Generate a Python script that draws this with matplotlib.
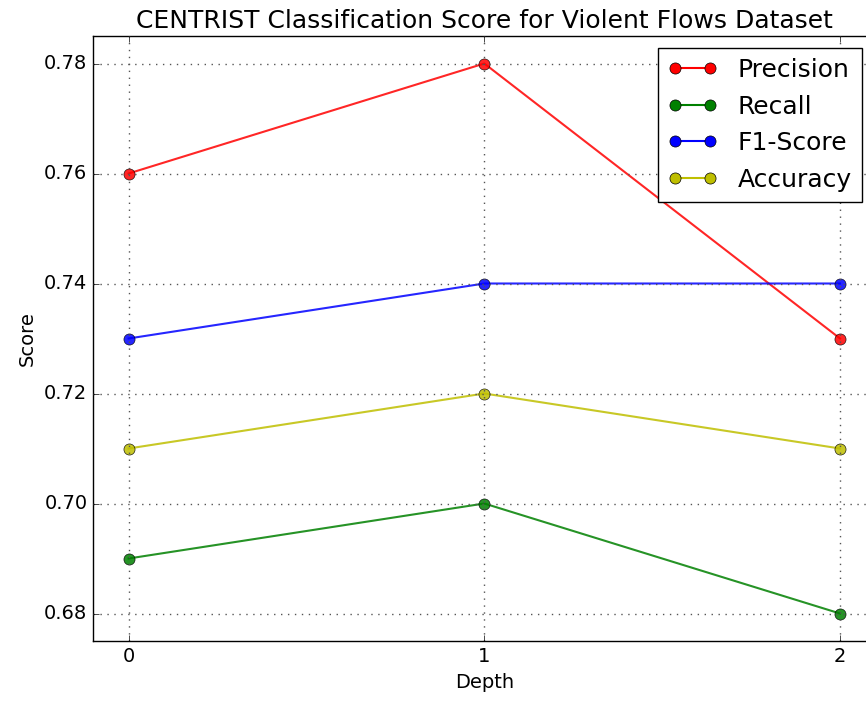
import matplotlib
matplotlib.use("Agg")
import matplotlib.pyplot as plt

plt.style.use("classic")

depth = [0, 1, 2]
precision = [0.76, 0.78, 0.73]
recall = [0.69, 0.70, 0.68]
f1 = [0.73, 0.74, 0.74]
accuracy = [0.71, 0.72, 0.71]
xticks = [0, 1, 2]
yticks = [0.68, 0.70, 0.72, 0.74, 0.76, 0.78]

fig = plt.figure(figsize=(8.66, 7.04), dpi=100, facecolor="white")
ax = fig.add_axes([93/866, 63/704, (875.6-93)/866, (641-36)/704])

series = [("Precision", precision, "r"), ("Recall", recall, "g"),
          ("F1-Score", f1, "b"), ("Accuracy", accuracy, "y")]
for name, vals, c in series:
    ax.plot(depth, vals, "-o", color=c, markerfacecolor=c, markeredgecolor="black",
            markersize=8, linewidth=1.5, alpha=0.85, label=name)

ax.set_xlim(-0.1, 2.1)
ax.set_ylim(0.675, 0.785)
ax.set_xticks(xticks)
ax.set_yticks(yticks)
ax.set_yticklabels([f"{v:.2f}" for v in yticks])
ax.tick_params(labelsize=14)
ax.spines["right"].set_visible(False)
ax.tick_params(right=False)
ax.grid(True, linestyle=(0, (1, 4)), color="#555555", linewidth=1)
ax.set_xlabel("Depth", fontsize=14)
ax.set_ylabel("Score", fontsize=14)
ax.set_title("CENTRIST Classification Score for Violent Flows Dataset", fontsize=18, pad=6)
leg = ax.legend(loc="upper right", bbox_to_anchor=(862/866, 1-48/704),
                bbox_transform=fig.transFigure, borderaxespad=0, fontsize=18,
                numpoints=2, fancybox=False)
for h in leg.legend_handles:
    h.set_alpha(1)

fig.savefig("out.png", dpi=100, facecolor="white")
